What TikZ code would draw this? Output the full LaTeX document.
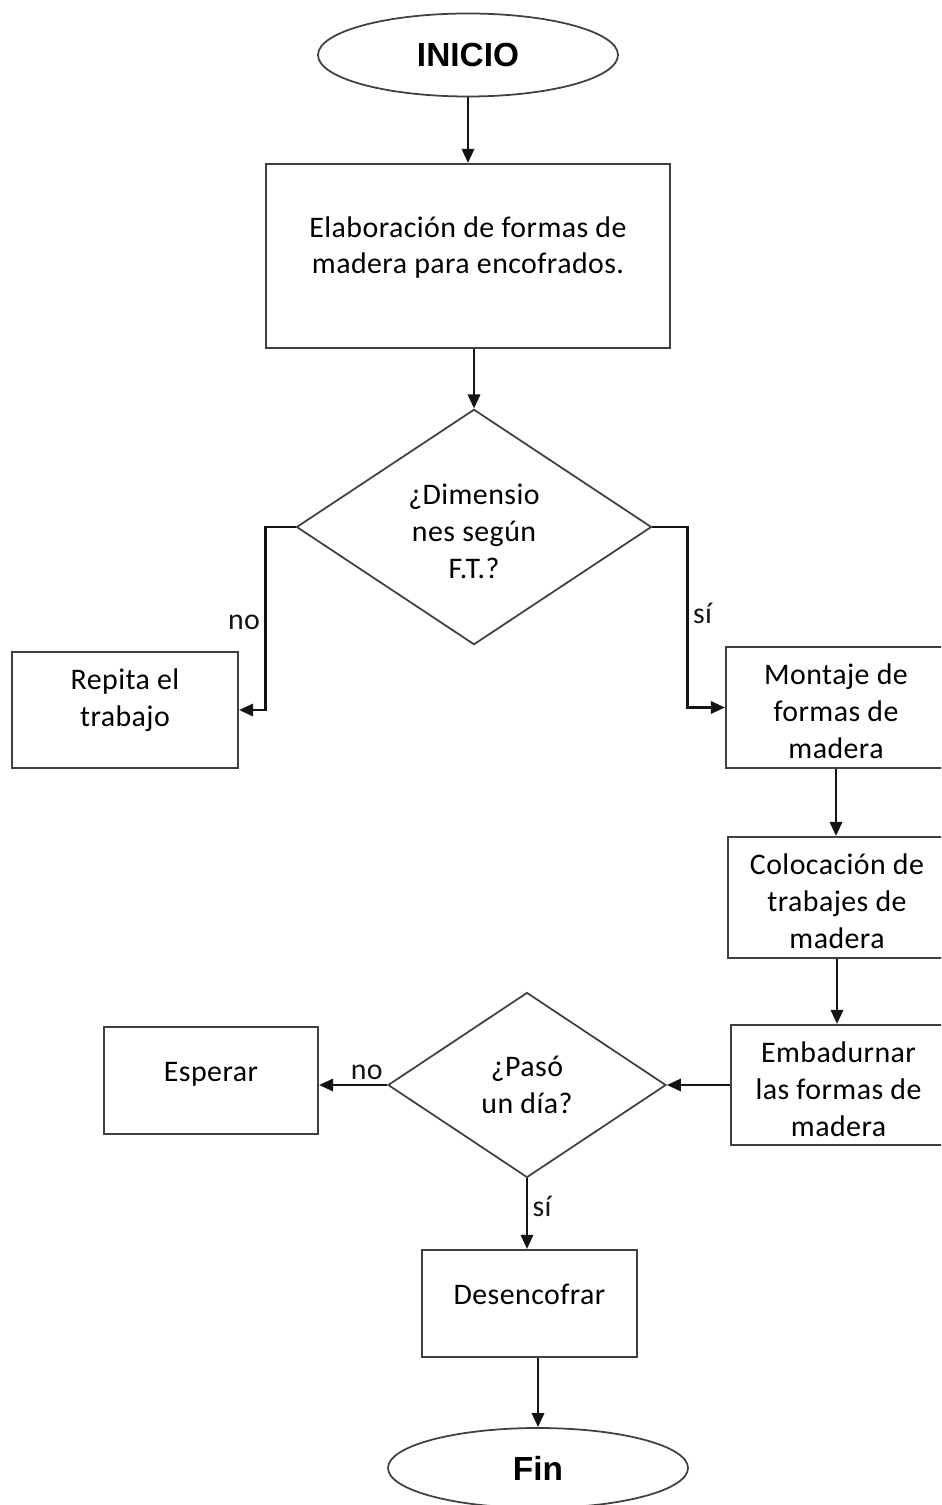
\documentclass[tikz,border=0pt]{standalone}
\usepackage{fontspec}
\setmainfont{Carlito}[LetterSpace=1.5]
\newfontfamily\terminalfont{Liberation Sans}
\usetikzlibrary{arrows.meta,shapes.geometric}
\definecolor{boxline}{RGB}{64,64,64}
\definecolor{flowline}{RGB}{20,20,20}

\begin{document}
\begin{tikzpicture}[
    x=0.2mm,
    y=-0.2mm,
    task box/.style={
      rectangle,
      draw=boxline,
      line width=1.2pt,
      align=center,
      inner sep=0pt,
      font=\fontsize{17}{21}\selectfont
    },
    decision/.style={
      diamond,
      draw=boxline,
      line width=1pt,
      align=center,
      inner sep=0pt,
      font=\fontsize{17}{21}\selectfont
    },
    terminal/.style={
      ellipse,
      draw=boxline,
      line width=1pt,
      inner sep=0pt,
      font=\terminalfont\bfseries\fontsize{19}{22}\selectfont
    },
    flow/.style={
      flowline,
      line width=1.4pt,
      -{Triangle[length=8pt,width=7pt]}
    },
    branch label/.style={
      inner sep=2.5pt,
      font=\fontsize{17}{21}\selectfont
    }
]

\useasboundingbox (0,0) rectangle (941,1505);
\clip (0,0) rectangle (941,1505);

% Start and preparation of the wooden forms.
\node[terminal, minimum width=60mm, minimum height=16.6mm] (inicio)
  at (468,55) {INICIO};
\node[task box, minimum width=80.8mm, minimum height=36.8mm, text depth=12.4pt] (elab)
  at (468,256) {Elaboración de formas de\\madera para encofrados.};

% First check: dimensions against the technical sheet.
\node[decision, minimum width=71mm, minimum height=47mm, text height=59pt] (dim)
  at (474,527) {¿Dimensio\\nes según\\F.T.?};
\node[task box, minimum width=45.2mm, minimum height=23.2mm, text depth=13.8pt] (repita)
  at (125,710) {Repita el\\trabajo};

% Right column of tasks.
\node[task box, minimum width=44mm, minimum height=24.2mm, text height=58.5pt] (montaje)
  at (836,707.5) {Montaje de\\formas de\\madera};
\node[task box, minimum width=43.6mm, minimum height=24.2mm, text height=58.5pt] (coloc)
  at (837,897.5) {Colocación de\\trabajes de\\madera};
\node[task box, minimum width=43mm, minimum height=24mm, text height=58.5pt] (embad)
  at (838.5,1085) {Embadurnar\\las formas de\\madera};

% Second check: waiting time.
\node[decision, minimum width=55.6mm, minimum height=37mm] (paso)
  at (527,1085) {¿Pasó\\un día?};
\node[task box, minimum width=42.8mm, minimum height=21.4mm, text depth=9.4pt] (esperar)
  at (211,1080.5) {Esperar};
\node[task box, minimum width=43mm, minimum height=21.4mm, text depth=11pt] (desenc)
  at (529.5,1303.5) {Desencofrar};
\node[terminal, minimum width=60mm, minimum height=16mm] (fin)
  at (538,1468) {Fin};

% Connectors.
\draw[flow] (inicio) -- (elab);
\draw[flow] (elab.south -| dim.north) -- (dim.north);
\draw[flow] (dim.west) -- ++(-30,0) |- node[branch label, pos=0.26, left] {no} (repita.east);
\draw[flow] (dim.east) -- ++(35,0) |- node[branch label, pos=0.24, right] {sí} (montaje.west);
\draw[flow] (montaje.south) -- (montaje.south |- coloc.north);
\draw[flow] (coloc.south) -- (coloc.south |- embad.north);
\draw[flow] (embad.west) -- (paso.east);
\draw[flow] (paso.west) -- node[branch label, pos=0.3, above] {no} (paso.west -| esperar.east);
\draw[flow] (paso.south) -- node[branch label, pos=0.4, right] {sí} (paso.south |- desenc.north);
\draw[flow] (fin.north |- desenc.south) -- (fin.north);

\end{tikzpicture}
\end{document}
